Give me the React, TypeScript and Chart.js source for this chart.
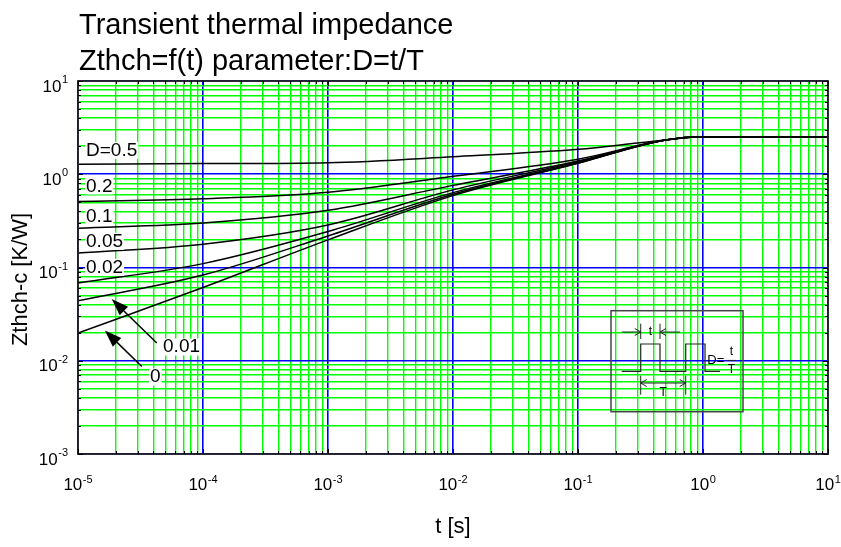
import React, { useEffect, useRef } from 'react';
import { Chart, registerables } from 'chart.js';

Chart.register(...registerables);

// ---- data ----
const tCommon = [1e-5, 1e-4, 1e-3, 1e-2, 1e-1, 0.5, 1, 10];
const tD05 = [1e-5, 1e-4, 1e-3, 1e-2, 1e-1, 0.3, 0.5, 1, 10];
const zD05 = [1.28, 1.3, 1.33, 1.54, 1.85, 2.16, 2.33, 2.53, 2.53];
const zD02 = [0.51, 0.545, 0.64, 0.95, 1.45, 2.33, 2.53, 2.53];
const zD01 = [0.264, 0.3, 0.41, 0.76, 1.39, 2.33, 2.53, 2.53];
const zD005 = [0.143, 0.178, 0.286, 0.68, 1.36, 2.33, 2.53, 2.53];
const zD002 = [0.068, 0.11, 0.243, 0.635, 1.33, 2.33, 2.53, 2.53];
const zD001 = [0.044, 0.083, 0.218, 0.61, 1.32, 2.33, 2.53, 2.53];
const zD0 = [0.0198, 0.061, 0.198, 0.59, 1.31, 2.33, 2.53, 2.53];

const seriesNames = ['D=0.5', 'D=0.2', 'D=0.1', 'D=0.05', 'D=0.02', 'D=0.01', 'D=0'];

const xDecades = [-5, -4, -3, -2, -1, 0, 1];
const yDecades = [-3, -2, -1, 0, 1];
const minorSteps = [1, 2, 3, 4, 5, 6, 7, 8, 9];

const titleLines = ['Transient thermal impedance', 'Zthch=f(t) parameter:D=t/T'];
const xTitle = 't [s]';
const yTitle = 'Zthch-c [K/W]';

const FONT = "'Liberation Sans', Arial, Helvetica, sans-serif";

function gridValues(decades: number[]) {
  const out: number[] = [];
  decades.forEach((d, i) => {
    if (i === decades.length - 1) {
      out.push(Math.pow(10, d));
    } else {
      minorSteps.forEach((m) => out.push(m * Math.pow(10, d)));
    }
  });
  return out;
}
const xGrid = gridValues(xDecades);
const yGrid = gridValues(yDecades);

const isDecade = (v: number) => {
  if (!v) return false;
  const l = Math.log10(v);
  return Math.abs(l - Math.round(l)) < 1e-9;
};

const mk = (ts: number[], zs: number[]) => ts.map((t, i) => ({ x: t, y: zs[i] }));

// curve labels: text, t, Z (baseline-left anchor in data space)
const curveLabels = [
  { text: 'D=0.5', t: 1.16e-5, z: 1.574 },
  { text: '0.2', t: 1.16e-5, z: 0.653 },
  { text: '0.1', t: 1.16e-5, z: 0.311 },
  { text: '0.05', t: 1.16e-5, z: 0.1667 },
  { text: '0.02', t: 1.16e-5, z: 0.0877 },
  { text: '0.01', t: 4.79e-5, z: 0.01227 },
  { text: '0', t: 3.77e-5, z: 0.00585 },
];
const arrows = [
  { tip: [1.86e-5, 0.0458], tail: [4.27e-5, 0.0155] },
  { tip: [1.64e-5, 0.0211], tail: [3.24e-5, 0.00869] },
];
const insetCorners = { t0: 0.1837, z0: 0.0344, t1: 2.09, z1: 0.00284 };

function drawPow(ctx: CanvasRenderingContext2D, exp: number, x: number, baseY: number, supY: number, align: 'center' | 'right') {
  ctx.font = `17px ${FONT}`;
  const w1 = ctx.measureText('10').width;
  ctx.font = `11px ${FONT}`;
  const es = String(exp);
  const w2 = ctx.measureText(es).width;
  const total = w1 + w2 + 0.5;
  const sx = align === 'center' ? x - total / 2 : x - total;
  ctx.textAlign = 'left';
  ctx.textBaseline = 'alphabetic';
  ctx.font = `17px ${FONT}`;
  ctx.fillText('10', sx, baseY);
  ctx.font = `11px ${FONT}`;
  ctx.fillText(es, sx + w1 + 0.5, supY);
}

const decorPlugin = {
  id: 'decor',
  afterDatasetsDraw(chart: any) {
    const ctx: CanvasRenderingContext2D = chart.ctx;
    const a = chart.chartArea;
    const xs = chart.scales.x;
    const ys = chart.scales.y;
    ctx.save();

    // frame
    ctx.strokeStyle = '#222';
    ctx.lineWidth = 1.8;
    ctx.strokeRect(a.left, a.top, a.right - a.left, a.bottom - a.top);

    // inner ticks on all sides
    ctx.lineWidth = 1;
    ctx.strokeStyle = '#000';
    ctx.beginPath();
    xGrid.forEach((v) => {
      const px = Math.round(xs.getPixelForValue(v)) + 0.5;
      const len = isDecade(v) ? 5 : 3;
      ctx.moveTo(px, a.bottom);
      ctx.lineTo(px, a.bottom - len);
      ctx.moveTo(px, a.top);
      ctx.lineTo(px, a.top + len);
    });
    yGrid.forEach((v) => {
      const py = Math.round(ys.getPixelForValue(v)) + 0.5;
      const len = isDecade(v) ? 5 : 3;
      ctx.moveTo(a.left, py);
      ctx.lineTo(a.left + len, py);
      ctx.moveTo(a.right, py);
      ctx.lineTo(a.right - len, py);
    });
    ctx.stroke();

    // curve labels
    ctx.font = `19px ${FONT}`;
    ctx.textAlign = 'left';
    ctx.textBaseline = 'alphabetic';
    curveLabels.forEach((l) => {
      const px = xs.getPixelForValue(l.t);
      const py = ys.getPixelForValue(l.z);
      const w = ctx.measureText(l.text).width;
      ctx.fillStyle = '#fff';
      ctx.fillRect(px - 1, py - 14, w + 2, 17);
      ctx.fillStyle = '#000';
      ctx.fillText(l.text, px, py);
    });

    // arrows
    arrows.forEach((ar) => {
      const tx = xs.getPixelForValue(ar.tip[0]);
      const ty = ys.getPixelForValue(ar.tip[1]);
      const sx = xs.getPixelForValue(ar.tail[0]);
      const sy = ys.getPixelForValue(ar.tail[1]);
      const ang = Math.atan2(ty - sy, tx - sx);
      const hl = 17;
      const hw = 6;
      const bx = tx - hl * Math.cos(ang);
      const by = ty - hl * Math.sin(ang);
      ctx.strokeStyle = '#000';
      ctx.lineWidth = 1.5;
      ctx.beginPath();
      ctx.moveTo(sx, sy);
      ctx.lineTo(bx, by);
      ctx.stroke();
      ctx.fillStyle = '#000';
      ctx.beginPath();
      ctx.moveTo(tx, ty);
      ctx.lineTo(bx + hw * Math.sin(ang), by - hw * Math.cos(ang));
      ctx.lineTo(bx - hw * Math.sin(ang), by + hw * Math.cos(ang));
      ctx.closePath();
      ctx.fill();
    });

    // inset diagram
    const bx0 = xs.getPixelForValue(insetCorners.t0);
    const by0 = ys.getPixelForValue(insetCorners.z0);
    const bx1 = xs.getPixelForValue(insetCorners.t1);
    const by1 = ys.getPixelForValue(insetCorners.z1);
    ctx.strokeStyle = '#444';
    ctx.lineWidth = 1.5;
    ctx.strokeRect(bx0, by0, bx1 - bx0, by1 - by0);
    const X = (d: number) => bx0 + d;
    const Y = (d: number) => by0 + d;
    ctx.strokeStyle = '#222';
    ctx.lineWidth = 1.2;
    const wave = [
      [10.7, 60.7], [29.7, 60.7], [29.7, 33.3], [49, 33.3], [49, 60.7],
      [74.7, 60.7], [74.7, 33.3], [94, 33.3], [94, 60.7], [109, 60.7],
    ];
    ctx.beginPath();
    wave.forEach((p, i) => (i ? ctx.lineTo(X(p[0]), Y(p[1])) : ctx.moveTo(X(p[0]), Y(p[1]))));
    ctx.stroke();
    const seg = (x1: number, y1: number, x2: number, y2: number) => {
      ctx.beginPath();
      ctx.moveTo(X(x1), Y(y1));
      ctx.lineTo(X(x2), Y(y2));
      ctx.stroke();
    };
    const chev = (tx: number, ty: number, dir: number) => {
      ctx.beginPath();
      ctx.moveTo(X(tx - dir * 6), Y(ty - 3.5));
      ctx.lineTo(X(tx), Y(ty));
      ctx.lineTo(X(tx - dir * 6), Y(ty + 3.5));
      ctx.stroke();
    };
    ctx.lineWidth = 1;
    seg(29.7, 13, 29.7, 28.3);
    seg(49, 13, 49, 28.3);
    seg(10.7, 21.3, 29.7, 21.3);
    chev(29.7, 21.3, 1);
    seg(69, 21.3, 49, 21.3);
    chev(49, 21.3, -1);
    seg(29.7, 65, 29.7, 84);
    seg(74.7, 65, 74.7, 84);
    seg(29.7, 72.3, 74.7, 72.3);
    chev(29.7, 72.3, -1);
    chev(74.7, 72.3, 1);
    seg(115.7, 49.7, 125, 49.7);
    ctx.fillStyle = '#000';
    ctx.font = `12px ${FONT}`;
    ctx.textAlign = 'center';
    ctx.textBaseline = 'middle';
    ctx.fillText('t', X(39.3), Y(21));
    ctx.fillText('T', X(52.2), Y(82));
    ctx.fillText('t', X(120.4), Y(41));
    ctx.fillText('T', X(120.4), Y(59));
    ctx.font = `13px ${FONT}`;
    ctx.textAlign = 'left';
    ctx.fillText('D=', X(96.3), Y(49.5));

    ctx.restore();
  },
  afterDraw(chart: any) {
    const ctx: CanvasRenderingContext2D = chart.ctx;
    const a = chart.chartArea;
    const xs = chart.scales.x;
    const ys = chart.scales.y;
    ctx.save();
    ctx.fillStyle = '#000';

    // titles
    ctx.font = `29px ${FONT}`;
    ctx.textAlign = 'left';
    ctx.textBaseline = 'alphabetic';
    ctx.fillText(titleLines[0], a.left + 1, 34);
    ctx.fillText(titleLines[1], a.left + 1, 70);

    // x tick labels
    xDecades.forEach((d) => {
      const px = xs.getPixelForValue(Math.pow(10, d));
      drawPow(ctx, d, px, a.bottom + 36, a.bottom + 29, 'center');
    });
    // y tick labels
    yDecades.forEach((d) => {
      const py = ys.getPixelForValue(Math.pow(10, d));
      drawPow(ctx, d, a.left - 10, py + 10.5, py + 2, 'right');
    });

    // axis titles
    ctx.font = `22px ${FONT}`;
    ctx.textAlign = 'center';
    ctx.textBaseline = 'middle';
    ctx.fillText(xTitle, (a.left + a.right) / 2, a.bottom + 73);
    ctx.save();
    ctx.translate(21, (a.top + a.bottom) / 2 + 12);
    ctx.rotate(-Math.PI / 2);
    ctx.fillText(yTitle, 0, 0);
    ctx.restore();

    ctx.restore();
  },
};

export default function App() {
  const ref = useRef<HTMLCanvasElement>(null);
  useEffect(() => {
    const zs = [zD05, zD02, zD01, zD005, zD002, zD001, zD0];
    const datasets = zs.map((z, i) => ({
      label: seriesNames[i],
      data: mk(i === 0 ? tD05 : tCommon, z),
      borderColor: '#000',
      borderWidth: 1.5,
      pointRadius: 0,
      fill: false,
      cubicInterpolationMode: 'monotone' as const,
    }));
    const gridColor = (c: any) => (c.tick && isDecade(c.tick.value) ? '#0000ff' : '#00ff00');
    const gridWidth = (c: any) => (c.tick && isDecade(c.tick.value) ? 1.6 : 1.4);
    const chart = new Chart(ref.current as HTMLCanvasElement, {
      type: 'line',
      data: { datasets },
      options: {
        animation: false,
        responsive: false,
        maintainAspectRatio: false,
        layout: { padding: { left: 78, top: 81, right: 13, bottom: 93 } },
        plugins: { legend: { display: false }, title: { display: false }, tooltip: { enabled: false } },
        scales: {
          x: {
            type: 'logarithmic',
            min: 1e-5,
            max: 10,
            ticks: { display: false },
            border: { display: false },
            grid: { color: gridColor, lineWidth: gridWidth, drawTicks: false },
            afterBuildTicks: (s: any) => {
              s.ticks = xGrid.map((v) => ({ value: v }));
            },
          },
          y: {
            type: 'logarithmic',
            min: 1e-3,
            max: 10,
            ticks: { display: false },
            border: { display: false },
            grid: { color: gridColor, lineWidth: gridWidth, drawTicks: false },
            afterBuildTicks: (s: any) => {
              s.ticks = yGrid.map((v) => ({ value: v }));
            },
          },
        },
      },
      plugins: [decorPlugin],
    });
    return () => chart.destroy();
  }, []);
  return (
    <div style={{ position: 'fixed', left: 0, top: 0, width: 841, height: 547, background: '#fff' }}>
      <canvas ref={ref} width={841} height={547} style={{ display: 'block' }} />
    </div>
  );
}
